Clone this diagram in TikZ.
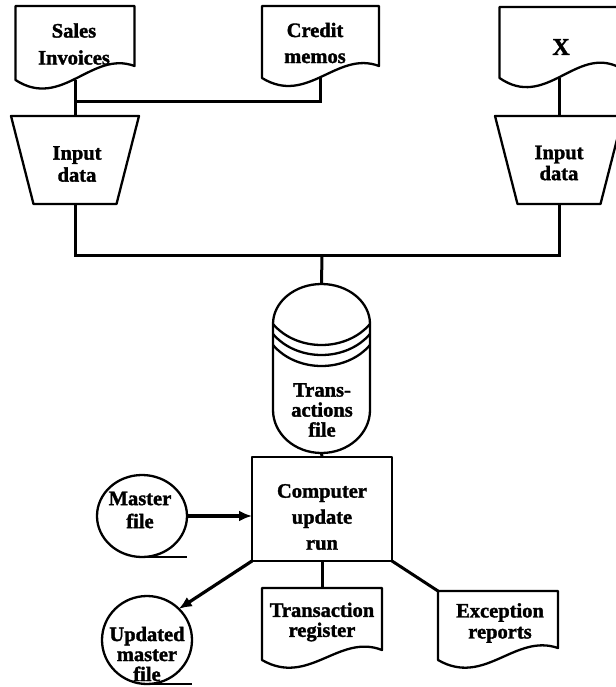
\documentclass[tikz,border=0pt]{standalone}
\usepackage{fontspec}
\setmainfont{Liberation Serif}[BoldFeatures={FakeBold=1.6}]
\usetikzlibrary{calc,arrows.meta,shapes.geometric}
\tikzset{
  outl/.style={line width=2.3bp, line join=round},
  conn/.style={line width=3bp},
  arr/.style={line width=3.2bp, -{Latex[length=13bp,width=11bp]}},
  shp/.style={draw=none, inner sep=0pt, outer sep=0pt},
  lbl/.style={font=\bfseries\fontsize{20.5bp}{#1}\selectfont, align=center, inner sep=0pt},
  lbl/.default=24bp
}
\newcommand\docout[3]{\draw[outl] let \p1=(#1.north west), \p2=(#1.south east) in
  (\p1) -- (\x2,\y1) -- (\x2,\y2+#2) .. controls (0.36*\x1+0.64*\x2,\y2+#3) and (0.61*\x1+0.39*\x2,\y2-#3) .. (\x1,\y2) -- cycle;}
\newcommand\trapout[2]{\draw[outl] let \p1=(#1.north west), \p2=(#1.south east) in
  (\p1) -- (\x2,\y1) -- (\x2-#2,\y2) -- (\x1+#2,\y2) -- cycle;}
\begin{document}
\begin{tikzpicture}[x=1bp,y=-1bp]
\fill[white] (0,0) rectangle (616,687);
\path[use as bounding box, clip] (0,0) rectangle (616,687);

% shape nodes
\node[shp, minimum width=119bp, minimum height=74bp] (si) at (75,43) {};
\node[shp, minimum width=117bp, minimum height=72bp] (cm) at (320.5,42) {};
\node[shp, minimum width=119bp, minimum height=71bp] (xd) at (559,42.5) {};
\node[shp, minimum width=128bp, minimum height=88bp] (inL) at (75,160) {};
\node[shp, minimum width=128bp, minimum height=88bp] (inR) at (559,160) {};
\node[shp, minimum width=97bp, minimum height=169bp] (cyl) at (321.5,368.5) {};
\node[shp, draw, outl, minimum width=140bp, minimum height=104bp] (box) at (322,509) {};
\node[shp, draw, outl, ellipse, minimum width=90bp, minimum height=82bp] (mf) at (142,516) {};
\node[shp, draw, outl, ellipse, minimum width=90bp, minimum height=88bp] (um) at (147,640) {};
\node[shp, minimum width=120bp, minimum height=72bp] (tr) at (322,624) {};
\node[shp, minimum width=120bp, minimum height=69bp] (ex) at (498,625.5) {};

% outlines
\docout{si}{14bp}{30bp}
\docout{cm}{12bp}{28bp}
\docout{xd}{11bp}{32bp}
\docout{tr}{10bp}{27bp}
\docout{ex}{12bp}{27bp}
\trapout{inL}{22.5bp}
\trapout{inR}{22.5bp}
\draw[outl] (273,324) .. controls (273,302) and (294.7,284) .. (321.5,284)
  .. controls (348.3,284) and (370,302) .. (370,324) -- (370,410)
  .. controls (370,433.7) and (348.3,453) .. (321.5,453)
  .. controls (294.7,453) and (273,433.7) .. (273,410) -- cycle;
\draw[outl] (273,324) .. controls (297,352) and (346,352) .. (370,324);
\draw[outl] (273,334) .. controls (297,362) and (346,362) .. (370,334);
\draw[outl] (273,345) .. controls (297,373) and (346,373) .. (370,345);
\draw[outl] (mf.south) -- ++(45,0);
\draw[outl] (um.south) -- ++(45,0);

% labels
\node[lbl=27bp] (t-si) at (74,44) {Sales\\Invoices};
\node[lbl=26bp] (t-cm) at (315,43) {Credit\\memos};
\node[font=\bfseries\fontsize{24bp}{28bp}\selectfont, inner sep=0pt] (t-xd) at (561,47) {X};
\node[lbl=22bp] (t-inL) at (77,164) {Input\\data};
\node[lbl=21bp] (t-inR) at (559,163) {Input\\data};
\node[lbl=20bp] (t-cyl) at (322,410) {Trans-\\actions\\file};
\node[lbl=26bp] (t-box) at (322,517) {Computer\\update\\run};
\node[lbl=23bp] (t-mf) at (140,510) {Master\\file};
\node[lbl=20bp] (t-um) at (147,654) {Updated\\master\\file};
\node[lbl=20bp] (t-tr) at (322,622) {Transaction\\register};
\node[lbl=21bp] (t-ex) at (500,623) {Exception\\reports};

% connectors
\coordinate (jA) at (75,102);
\coordinate (jB) at (322,255);
\draw[conn] (si.south) -- (inL.north);
\draw[conn] (cm.south) |- (jA);
\draw[conn] (xd.south) -- (inR.north);
\draw[conn] (inL.south) |- (jB) -| (inR.south);
\draw[conn] (jB) -- (cyl.north);
\draw[conn] (cyl.south) -- (box.north);
\draw[arr] (mf.east) -- (mf.east -| box.west);
\draw[arr] (box.south west) -- (um.north east);
\draw[conn] (box.south) -- (tr.north);
\draw[conn] (box.south east) -- (ex.north west);
\end{tikzpicture}
\end{document}
